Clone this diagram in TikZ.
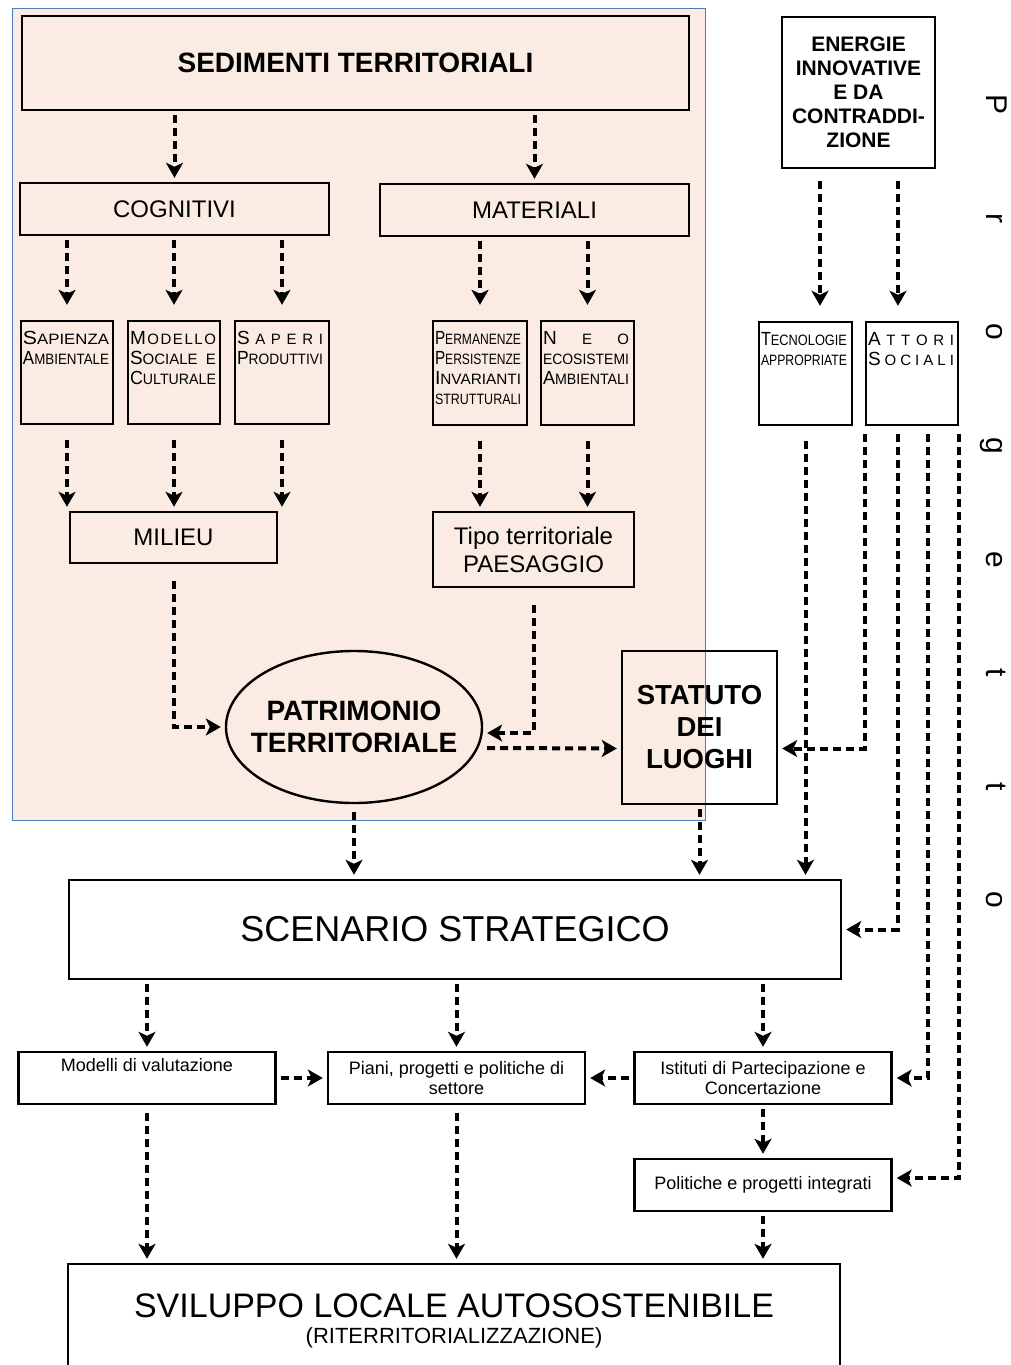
\documentclass[tikz,border=0pt]{standalone}
\usepackage{fontspec}
\setmainfont{Liberation Sans}
\usepackage{graphicx}
\usetikzlibrary{arrows.meta,shapes.geometric}

\definecolor{peach}{RGB}{250,236,226}
\definecolor{frameblue}{RGB}{74,126,187}

\newlength{\cellw}
\setlength{\cellw}{86pt}
\newcommand{\fsz}[2]{\fontsize{#1}{#2}\selectfont}
\newcommand{\scap}[2]{{\fsz{19}{20}#1}#2}
\newcommand{\fitline}[1]{\resizebox{\cellw}{\height}{#1}}
\newcommand{\spreadline}[1]{\leavevmode\hbox to \cellw{#1}}

\begin{document}
\begin{tikzpicture}[x=1pt,y=-1pt,
	box/.style={draw, line width=2.4pt, inner sep=0pt, align=center},
	cell/.style={box, minimum width=92pt, minimum height=103pt},
	celltext/.style={anchor=north west, inner sep=0pt, text width=\cellw, align=left, font=\fsz{15}{20}, xshift=3pt, yshift=-11pt},
	smallbox/.style={box, minimum width=257pt, minimum height=52pt, font=\fsz{18}{20}},
	flow/.style={line width=4pt, dash pattern=on 8pt off 5pt, shorten <=4pt, shorten >=4pt, -{Stealth[length=15pt,width=17pt,inset=4pt]}}]
	\path[use as bounding box] (0,0) rectangle (1010,1365);
	\clip (0,0) rectangle (1010,1365);
	\draw[frameblue, fill=peach, line width=1pt] (12,8) rectangle (705,820);

	\node[box, minimum width=667pt, minimum height=94pt, font=\bfseries\fsz{28}{32}] (sed) at (355.5,63) {SEDIMENTI TERRITORIALI};
	\node[box, minimum width=309pt, minimum height=52pt, font=\fsz{24}{28}] (cog) at (174.5,209) {COGNITIVI};
	\node[box, minimum width=309pt, minimum height=52pt, font=\fsz{24}{28}] (mat) at (534.5,210) {MATERIALI};

	\node[cell] (sap) at (67,372.5) {};
	\node[cell] (modc) at (174,372.5) {};
	\node[cell, minimum width=94pt] (sape) at (282,372.5) {};
	\node[cell, minimum width=94pt, minimum height=104pt] (perm) at (480,373) {};
	\node[cell, minimum width=93pt, minimum height=104pt] (neo) at (587.5,373) {};
	\node[cell, minimum width=93pt] (tec) at (805.5,373.5) {};
	\node[cell] (att) at (912,373.5) {};

	\node[celltext] (sapt) at (sap.north west) {\fitline{\scap{S}{APIENZA}}\\\fitline{\scap{A}{MBIENTALE}}};
	\node[celltext] (modt) at (modc.north west) {\spreadline{\scap{M}{\hfill O\hfill D\hfill E\hfill L\hfill L\hfill O}}\\\spreadline{\scap{S}{OCIALE\hfill E}}\\\fitline{\scap{C}{ULTURALE}}};
	\node[celltext] (sapet) at (sape.north west) {\spreadline{\scap{S}{\hfill A\hfill P\hfill E\hfill R\hfill I}}\\\fitline{\scap{P}{RODUTTIVI}}};
	\node[celltext] (permt) at (perm.north west) {\fitline{\scap{P}{ERMANENZE}}\\\fitline{\scap{P}{ERSISTENZE}}\\\fitline{\scap{I}{NVARIANTI}}\\\fitline{STRUTTURALI}};
	\node[celltext] (neot) at (neo.north west) {\spreadline{\scap{N}{\hfill E\hfill O}}\\\fitline{ECOSISTEMI}\\\fitline{\scap{A}{MBIENTALI}}};
	\node[celltext] (tect) at (tec.north west) {\fitline{\scap{T}{ECNOLOGIE}}\\\fitline{APPROPRIATE}};
	\node[celltext] (attt) at (att.north west) {\spreadline{\scap{A}{\hfill T\hfill T\hfill O\hfill R\hfill I}}\\\spreadline{\scap{S}{\hfill O\hfill C\hfill I\hfill A\hfill L\hfill I}}};

	\node[box, minimum width=207pt, minimum height=51pt, font=\fsz{24}{28}] (mil) at (173.5,537.5) {MILIEU};
	\node[box, minimum width=201pt, minimum height=75pt, font=\fsz{24}{28}] (tipo) at (533.5,549.5) {Tipo territoriale\\PAESAGGIO};
	\node[draw, ellipse, line width=2.4pt, minimum width=256pt, minimum height=152pt, inner sep=0pt] (pat) at (354,727) {};
	\node[align=center, inner sep=0pt, font=\bfseries\fsz{28}{32}] (patt) at (pat.center) {PATRIMONIO\\TERRITORIALE};
	\node[box, minimum width=155pt, minimum height=153pt, font=\bfseries\fsz{27.5}{32}] (stat) at (699.5,727.5) {STATUTO\\DEI\\LUOGHI};
	\node[box, minimum width=153pt, minimum height=151pt, font=\bfseries\fsz{21}{24}] (en) at (858.5,92.5) {ENERGIE\\INNOVATIVE\\E DA\\CONTRADDI-\\ZIONE};

	\node[box, minimum width=772pt, minimum height=99pt, font=\fsz{36}{40}] (scen) at (455,929.5) {SCENARIO STRATEGICO};
	\node[smallbox] (mod) at (147,1078) {Modelli di valutazione\\\strut};
	\node[smallbox] (pia) at (456.5,1078) {Piani, progetti e politiche di\\settore};
	\node[smallbox] (ist) at (763,1078) {Istituti di Partecipazione e\\Concertazione};
	\node[smallbox] (pol) at (763,1185) {Politiche e progetti integrati};
	\node[box, minimum width=772pt, minimum height=114pt, font=\fsz{34}{38}] (svil) at (454,1321) {SVILUPPO LOCALE AUTOSOSTENIBILE\\[-12pt]{\fsz{22}{26}(RITERRITORIALIZZAZIONE)}};

	\foreach \l [count=\i from 0] in {P,r,o,g,e,t,t,o}
		\node[rotate=-90, anchor=base, inner sep=0pt, font=\fsz{30}{30}] (prog\i) at (986,{105+113.6*\i}) {\l};

	\draw[flow] (sed.south -| cog.north) -- (cog.north);
	\draw[flow] (sed.south -| mat.north) -- (mat.north);
	\foreach \c in {sap,modc,sape}
		\draw[flow, shorten >=15pt] (cog.south -| \c.north) -- (\c.north);
	\foreach \c in {perm,neo}
		\draw[flow, shorten >=15pt] (mat.south -| \c.north) -- (\c.north);
	\foreach \c in {sap,modc,sape}
		\draw[flow, shorten <=15pt] (\c.south) -- (\c.south |- mil.north);
	\foreach \c in {perm,neo}
		\draw[flow, shorten <=15pt] (\c.south) -- (\c.south |- tipo.north);
	\draw[flow, shorten <=12pt, shorten >=15pt] (en.south -| 820,0) -- (tec.north -| 820,0);
	\draw[flow, shorten <=12pt, shorten >=15pt] (en.south -| 898,0) -- (att.north -| 898,0);

	\draw[flow, shorten <=17pt] (mil.south) |- (pat.west);
	\draw[flow, shorten <=17pt] (tipo.south) |- ([yshift=-6pt]pat.east);
	\draw[flow] ([yshift=-21pt]pat.east) -- ([yshift=-21pt]stat.west);

	\draw[flow, shorten <=8pt] (att.south west) |- ([yshift=-21pt]stat.east);
	\draw[flow, shorten <=8pt] (att.south -| 898,0) |- (scen.east);
	\draw[flow, shorten <=8pt] (att.south -| 928,0) |- (ist.east);
	\draw[flow, shorten <=8pt] (att.south east) |- ([yshift=7pt]pol.east);
	\draw[flow, shorten <=15pt] (tec.south) -- (tec.south |- scen.north);

	\draw[flow, shorten <=8pt] (pat.south) -- (pat.south |- scen.north);
	\draw[flow] (stat.south) -- (stat.south |- scen.north);
	\foreach \c in {mod,pia,ist}
		\draw[flow] (scen.south -| \c.north) -- (\c.north);
	\draw[flow] (mod.east) -- (pia.west);
	\draw[flow] (ist.west) -- (pia.east);
	\draw[flow] (ist.south) -- (pol.north);
	\draw[flow, shorten <=8pt] (mod.south) -- (mod.south |- svil.north);
	\draw[flow, shorten <=8pt] (pia.south) -- (pia.south |- svil.north);
	\draw[flow] (pol.south) -- (pol.south |- svil.north);
\end{tikzpicture}
\end{document}
